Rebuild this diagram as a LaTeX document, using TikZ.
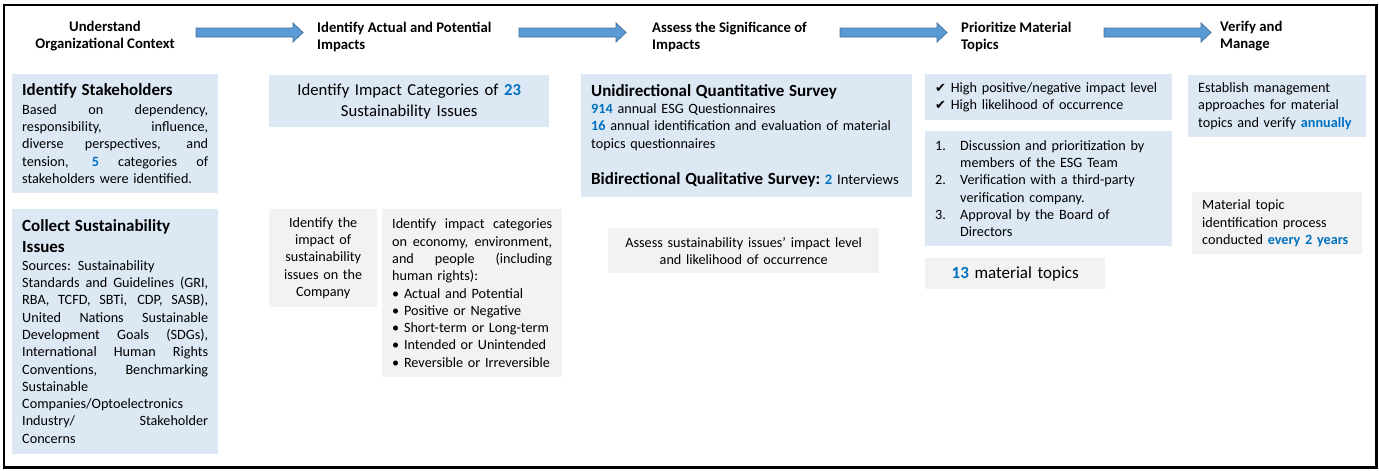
\documentclass[tikz,border=0pt]{standalone}
\usepackage{fontspec}
\setmainfont{Carlito}
\newfontfamily\symfont{DejaVu Sans}

\definecolor{boxblue}{HTML}{DDE8F5}
\definecolor{boxgray}{HTML}{F2F2F2}
\definecolor{numblue}{HTML}{0070C0}
\definecolor{arrowfill}{HTML}{5B9BD5}
\definecolor{arrowline}{HTML}{41719C}

\newcommand{\hl}[1]{\textcolor{numblue}{\textbf{#1}}}
\newcommand{\sline}[2][186pt]{\hbox to #1{\spaceskip=3pt plus 1fil\relax#2}}
\newcommand{\bodysize}{\fontsize{14.2}{17.3}\selectfont}
\newcommand{\titlesize}{\fontsize{17}{21}\selectfont}
\newcommand{\chk}{{\symfont\fontsize{13}{17.3}\selectfont ✔}}
\newcommand{\numitem}[2]{\hangindent=25pt\hangafter=1\makebox[25pt][l]{#1}#2\par}

\tikzset{
  head/.style={font=\bfseries\fontsize{14.7}{17}\selectfont, inner sep=0},
  bluebox/.style={fill=boxblue, anchor=north west, inner xsep=10, inner ysep=0,
    align=left, font=\bodysize},
  graybox/.style={bluebox, fill=boxgray},
  blockarrow/.pic={
    \draw[fill=arrowfill, draw=arrowline, line width=0.8]
      (0,-4.5) -- (97,-4.5) -- (97,-9.5) -- (107,0) -- (97,9.5) -- (97,4.5) -- (0,4.5) -- cycle;
  }
}

\begin{document}
\begin{tikzpicture}[x=1pt,y=-1pt]
    \useasboundingbox (0,0) rectangle (1379,471);
    \draw[line width=2.5] (4,5) rectangle (1376.5,467.5);
    % headers
    \node[head, align=center] (h1) at (105,36.5) {Understand\\Organizational Context};
    \node[head, align=left, anchor=west] (h2) at (317,36.5) {Identify Actual and Potential\\Impacts};
    \node[head, align=left, anchor=west] (h3) at (652,36.5) {Assess the Significance of\\Impacts};
    \node[head, align=left, anchor=west] (h4) at (961,36.5) {Prioritize Material\\Topics};
    \node[head, align=left, anchor=west] (h5) at (1220,36.5) {Verify and\\Manage};
    \pic (ar1) at (196,32.5) {blockarrow};
    \pic (ar2) at (519,32.5) {blockarrow};
    \pic (ar3) at (840,32.5) {blockarrow};
    \pic (ar4) at (1104,32.5) {blockarrow};
    % column 1
    \node[bluebox, text width=186, minimum height=119] (stake) at (12,74) {%
        {\titlesize\bfseries Identify Stakeholders\par}\vspace{1pt}
        \sline{Based on dependency,}
        \sline{responsibility, influence,}
        \sline{diverse perspectives, and}
        \sline{tension, \hl{5} categories of}
        stakeholders were identified.};
    \node[bluebox, text width=186, minimum height=245] (collect) at (12,209) {%
        {\titlesize\bfseries Collect Sustainability\\Issues\par}
        \sline{Sources: Sustainability}
        \sline{Standards and Guidelines (GRI,}
        \sline{RBA, TCFD, SBTi, CDP, SASB),}
        \sline{United Nations Sustainable}
        \sline{Development Goals (SDGs),}
        \sline{International Human Rights}
        \sline{Conventions, Benchmarking}
        Sustainable\\
        Companies/Optoelectronics\par
        \sline{Industry/ Stakeholder}
        Concerns};
    % column 2
    \node[bluebox, align=center, text width=260, minimum height=52, font=\fontsize{16.7}{21}\selectfont] (cat) at (269,75) {%
        Identify Impact Categories of \hl{23}\\Sustainability Issues};
    \node[graybox, align=center, text width=88, minimum height=98] (company) at (269,209) {%
        Identify the\\impact of\\sustainability\\issues on the\\Company};
    \node[graybox, text width=160, minimum height=168] (dims) at (382,209) {%
        \sline[160pt]{Identify impact categories}
        \sline[160pt]{on economy, environment,}
        \sline[160pt]{and people (including}
        human rights):\\
        \textbullet\ Actual and Potential\\
        \textbullet\ Positive or Negative\\
        \textbullet\ Short-term or Long-term\\
        \textbullet\ Intended or Unintended\\
        \textbullet\ Reversible or Irreversible};
    % column 3
    \node[bluebox, text width=311, minimum height=123] (survey) at (581,74) {%
        {\titlesize\bfseries Unidirectional Quantitative Survey\par}
        \hl{914} annual ESG Questionnaires\\
        \hl{16} annual identification and evaluation of material\\
        topics questionnaires\par\vspace{19pt}
        \hbox{\titlesize\bfseries Bidirectional Qualitative Survey:\fontsize{14.6}{17}\selectfont\ \hl{2}\mdseries\ Interviews}};
    \node[graybox, align=center, text width=251, minimum height=45] (assess) at (608,228) {%
        Assess sustainability issues’ impact level\\and likelihood of occurrence};
    % column 4
    \node[bluebox, text width=227, minimum height=46] (crit) at (925,74) {%
        \chk\ High positive/negative impact level\\
        \chk\ High likelihood of occurrence};
    \node[bluebox, text width=227, minimum height=115] (steps) at (925,131) {%
        \numitem{1.}{Discussion and prioritization by\newline members of the ESG Team}
        \numitem{2.}{Verification with a third-party\newline verification company.}
        \numitem{3.}{Approval by the Board of\newline Directors}};
    \node[graybox, align=center, text width=160, minimum height=31, font=\titlesize] (topics) at (925,258) {%
        \hl{13} material topics};
    % column 5
    \node[bluebox, text width=158, minimum height=62] (manage) at (1188,75) {%
        Establish management\\approaches for material\\topics and verify \hl{annually}};
    \node[graybox, text width=150, minimum height=62] (cycle) at (1192,192) {%
        Material topic\\identification process\\conducted \hl{every 2 years}};
\end{tikzpicture}
\end{document}
